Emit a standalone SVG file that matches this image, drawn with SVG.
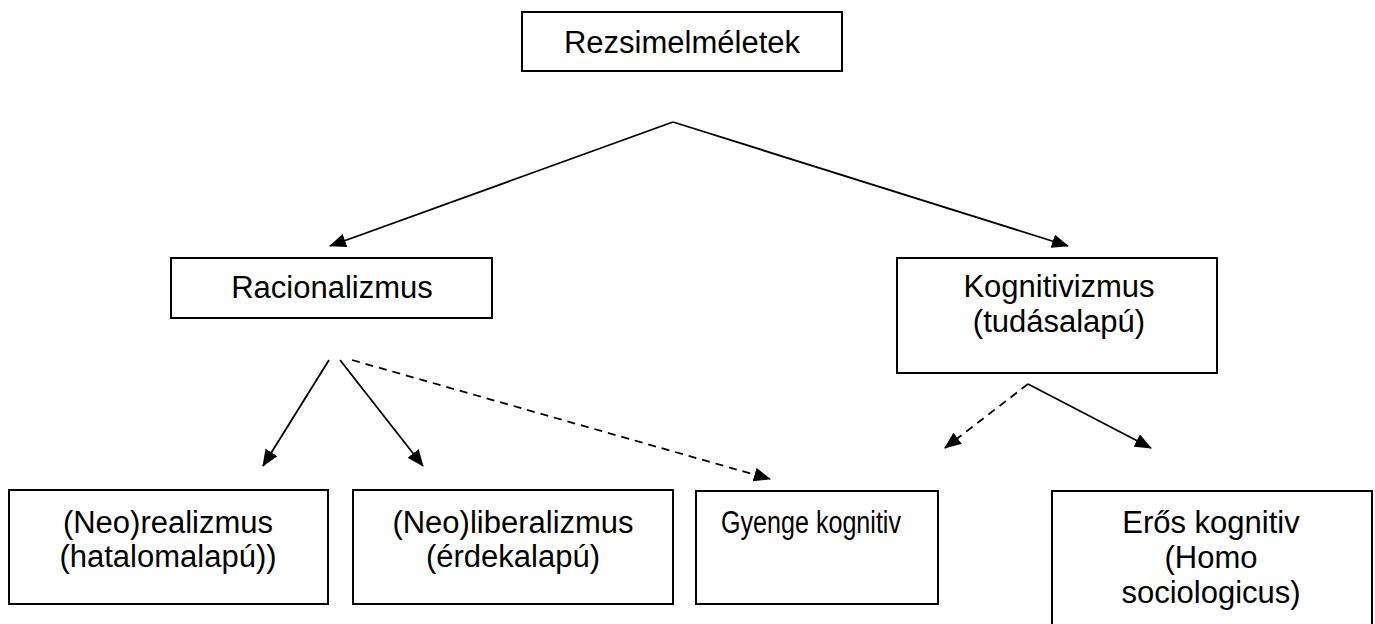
<svg xmlns="http://www.w3.org/2000/svg" width="1375" height="624" viewBox="0 0 1375 624">
<style>
.box{fill:#fff;stroke:#000;stroke-width:2}
.t{font-family:"Liberation Sans",Arial,sans-serif;font-size:31px;fill:#000;text-anchor:middle}
.c{fill:none;stroke:#000;stroke-width:1.8}
.d{stroke-dasharray:8 6}
</style>
<defs>
<marker id="ah" viewBox="0 0 17 14" refX="16" refY="7" markerWidth="17" markerHeight="14" markerUnits="userSpaceOnUse" orient="auto">
<path d="M0,0 L17,7 L0,14 z" fill="#000"/>
</marker>
</defs>
<rect width="1375" height="624" fill="#fff"/>
<g id="connectors">
<line class="c" x1="673" y1="122" x2="330" y2="246" marker-end="url(#ah)"/>
<line class="c" x1="673" y1="122" x2="1068" y2="246" marker-end="url(#ah)"/>
<line class="c" x1="329" y1="360" x2="263" y2="466" marker-end="url(#ah)"/>
<line class="c" x1="340" y1="360" x2="423" y2="466" marker-end="url(#ah)"/>
<line class="c d" x1="352" y1="360" x2="770" y2="479" marker-end="url(#ah)"/>
<line class="c d" x1="1028" y1="384" x2="945" y2="448" marker-end="url(#ah)"/>
<line class="c" x1="1028" y1="384" x2="1151" y2="448" marker-end="url(#ah)"/>
</g>
<g id="n-rezsim">
<rect class="box" x="522" y="12" width="320" height="59"/>
<text class="t" x="682" y="53">Rezsimelméletek</text>
</g>
<g id="n-racionalizmus">
<rect class="box" x="171" y="258" width="321" height="60"/>
<text class="t" x="332" y="298">Racionalizmus</text>
</g>
<g id="n-kognitivizmus">
<rect class="box" x="897" y="258" width="320" height="115"/>
<text class="t" x="1059" y="297">Kognitivizmus</text>
<text class="t" x="1059" y="332">(tudásalapú)</text>
</g>
<g id="n-neorealizmus">
<rect class="box" x="9" y="490" width="319" height="114"/>
<text class="t" x="168" y="533">(Neo)realizmus</text>
<text class="t" x="168" y="567">(hatalomalapú))</text>
</g>
<g id="n-neoliberalizmus">
<rect class="box" x="353" y="490" width="320" height="114"/>
<text class="t" x="513" y="533">(Neo)liberalizmus</text>
<text class="t" x="513" y="567">(érdekalapú)</text>
</g>
<g id="n-gyenge">
<rect class="box" x="696" y="491" width="242" height="113"/>
<text class="t" x="811" y="533" textLength="180" lengthAdjust="spacingAndGlyphs">Gyenge kognitiv</text>
</g>
<g id="n-eros">
<rect class="box" x="1052" y="491" width="320" height="140"/>
<text class="t" x="1211" y="533">Erős kognitiv</text>
<text class="t" x="1211" y="568">(Homo</text>
<text class="t" x="1211" y="603">sociologicus)</text>
</g>
</svg>
